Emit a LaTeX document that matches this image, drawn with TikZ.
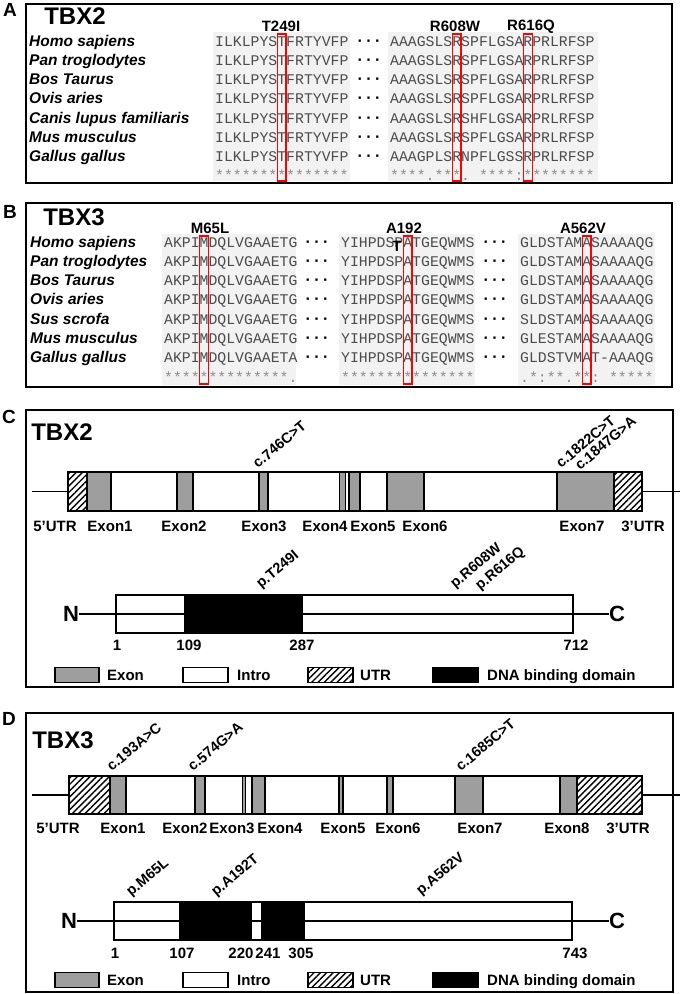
\documentclass[tikz,border=0pt]{standalone}
\usepackage{fontspec}
\setmainfont{Liberation Sans}
\setmonofont{Liberation Mono}
\usetikzlibrary{patterns.meta}

\newcommand{\cw}{8.88}% width of one residue

\begin{document}
\begin{tikzpicture}[
		x=1pt, y=-1pt,
		frame/.style={draw, line width=1.4pt},
		panel/.style={font=\fontsize{19}{19}\selectfont\bfseries, inner sep=0},
		gene/.style={font=\fontsize{24}{24}\selectfont\bfseries, inner sep=0},
		species/.style={font=\fontsize{15.5}{16}\selectfont\bfseries\itshape, anchor=base west, inner sep=0},
		seq/.style={font=\fontsize{14.8}{15}\selectfont\ttfamily, text=black!70, anchor=base west, inner sep=0},
		cons/.style={seq, text=black!45},
		dotgap/.style={font=\fontsize{16}{16}\selectfont\bfseries, anchor=base, inner sep=0},
		seqbg/.style={fill=black!5},
		site/.style={font=\fontsize{15}{15}\selectfont\bfseries, inner sep=0},
		redbox/.style={draw=red, line width=1.1pt},
		lbl/.style={font=\fontsize{15}{15}\selectfont\bfseries, inner sep=0},
		mutlbl/.style={font=\fontsize{14.5}{15}\selectfont\bfseries, rotate=40, anchor=south west, inner sep=0.5pt},
		exonbox/.style={fill=black!38, draw, line width=1.3pt},
		utrbox/.style={pattern={Lines[angle=45,distance=4.5pt,line width=1.4pt]}, draw, line width=1.3pt},
		intronbox/.style={fill=white, draw, line width=1.3pt},
		dbdbox/.style={fill=black, draw, line width=1.3pt},
		wire/.style={line width=1.3pt},
		term/.style={font=\fontsize{22}{22}\selectfont\bfseries, inner sep=0}
		]
		\useasboundingbox (0,0) rectangle (685,994);
		
		% A: TBX2 alignment
		\draw[frame] (26,4) rectangle (672,183);
		\node[panel] (lblA) at (10,10) {A};
		\node[gene] (geneA) at (75,16) {TBX2};
		\fill[seqbg] (213,32) rectangle (350,181);
		\fill[seqbg] (388,32) rectangle (598,181);
		\foreach \sp/\sa/\sb [count=\i] in {
			Homo sapiens/ILKLPYSTFRTYVFP/AAAGSLSRSPFLGSARPRLRFSP,
			Pan troglodytes/ILKLPYSTFRTYVFP/AAAGSLSRSPFLGSARPRLRFSP,
			Bos Taurus/ILKLPYSTFRTYVFP/AAAGSLSRSPFLGSARPRLRFSP,
			Ovis aries/ILKLPYSTFRTYVFP/AAAGSLSRSPFLGSARPRLRFSP,
			Canis lupus familiaris/ILKLPYSTFRTYVFP/AAAGSLSRSHFLGSARPRLRFSP,
			Mus musculus/ILKLPYSTFRTYVFP/AAAGSLSRSPFLGSARPRLRFSP,
			Gallus gallus/ILKLPYSTFRTYVFP/AAAGPLSRNPFLGSSRPRLRFSP}{
			\pgfmathsetmacro{\yb}{46.5+19.15*(\i-1)}
			\node[species] (spA\i) at (29,\yb) {\sp};
			\node[seq] (sqA\i) at (215,\yb) {\sa};
			\node[dotgap] (gpA\i) at (369,\yb) {·\hspace{3.5pt}·\hspace{3.5pt}·};
			\node[seq] (sqAb\i) at (390,\yb) {\sb};
		}
		\node[cons] (csA1) at (215,180.5) {***************};
		\node[cons] (csA2) at (390,180.5) {****.***. ****:********};
		\node[site] (mutT249I) at (281,26) {T249I};
		\node[site] (mutR608W) at (455,26) {R608W};
		\node[site] (mutR616Q) at (531,27) {R616Q};
		\draw[redbox] ({215+7*\cw},34) rectangle ({215+8*\cw},181);
		\draw[redbox] ({390+7*\cw},34) rectangle ({390+8*\cw},181);
		\draw[redbox] ({390+15*\cw},34) rectangle ({390+16*\cw},181);
		
		% B: TBX3 alignment
		\draw[frame] (26,203) rectangle (672,387);
		\node[panel] (lblB) at (10,212) {B};
		\node[gene] (geneB) at (74,217) {TBX3};
		\fill[seqbg] (162,234) rectangle (296,385);
		\fill[seqbg] (339,234) rectangle (475,385);
		\fill[seqbg] (518,234) rectangle (655,385);
		\foreach \sp/\sa/\sb/\sc [count=\i] in {
			Homo sapiens/AKPIMDQLVGAAETG/YIHPDSPATGEQWMS/GLDSTAMASAAAAQG,
			Pan troglodytes/AKPIMDQLVGAAETG/YIHPDSPATGEQWMS/GLDSTAMASAAAAQG,
			Bos Taurus/AKPIMDQLVGAAETG/YIHPDSPATGEQWMS/GLDSTAMASAAAAQG,
			Ovis aries/AKPIMDQLVGAAETG/YIHPDSPATGEQWMS/GLDSTAMASAAAAQG,
			Sus scrofa/AKPIMDQLVGAAETG/YIHPDSPATGEQWMS/SLDSTAMASAAAAQG,
			Mus musculus/AKPIMDQLVGAAETG/YIHPDSPATGEQWMS/GLESTAMASAAAAQG,
			Gallus gallus/AKPIMDQLVGAAETA/YIHPDSPATGEQWMS/GLDSTVMAT-AAAQG}{
			\pgfmathsetmacro{\yb}{247+19.3*(\i-1)}
			\node[species] (spB\i) at (30,\yb) {\sp};
			\node[seq] (sqB\i) at (164,\yb) {\sa};
			\node[dotgap] (gpB\i) at (317,\yb) {·\hspace{3.5pt}·\hspace{3.5pt}·};
			\node[seq] (sqBb\i) at (341,\yb) {\sb};
			\node[dotgap] (gpBb\i) at (495,\yb) {·\hspace{3.5pt}·\hspace{3.5pt}·};
			\node[seq] (sqBc\i) at (520,\yb) {\sc};
		}
		\node[cons] (csB1) at (164,382) {**************.};
		\node[cons] (csB2) at (341,382) {***************};
		\node[cons] (csB3) at (520,382) {.*:**.**: *****};
		\node[site] (mutM65L) at (210,228) {M65L};
		\node[site] (mutA192) at (404,228) {A192};
		\node[site] (mutA192T) at (397,246) {T};
		\node[site] (mutA562V) at (583,228) {A562V};
		\draw[redbox] ({164+4*\cw},236) rectangle ({164+5*\cw},384);
		\draw[redbox] ({341+7*\cw},236) rectangle ({341+8*\cw},384);
		\draw[redbox] ({520+7*\cw},236) rectangle ({520+8*\cw},384);
		
		% C: TBX2 gene and protein
		\draw[frame] (26,410) rectangle (673,687);
		\node[panel] (lblC) at (9,417) {C};
		\node[gene] (geneC) at (62,432) {TBX2};
		\coordinate (gCl) at (32,491.5);
		\coordinate (gCr) at (680,491.5);
		\draw[wire] (gCl) -- (gCr);
		\draw[intronbox] (68,472) rectangle (642,511);
		\foreach \a/\b in {87/111,177/193,259/268,339.5/345.5,349/360,387/424,557/614}
		\draw[exonbox] (\a,472) rectangle (\b,511);
		\draw[utrbox] (68,472) rectangle (87,511);
		\draw[utrbox] (614,472) rectangle (642,511);
		\foreach \t/\x [count=\i] in {5’UTR/55,Exon1/110,Exon2/184,Exon3/264,Exon4/325,Exon5/373,Exon6/425,Exon7/582,3’UTR/643}
		\node[lbl, anchor=base] (exC\i) at (\x,531) {\t};
		\node[mutlbl] (cC1) at (258,470) {c.746C>T};
		\node[mutlbl] (cC2) at (561,470) {c.1822C>T};
		\node[mutlbl] (cC3) at (580,472) {c.1847G>A};
		
		\node[term] (nC) at (71,614) {N};
		\node[term] (tC) at (617,614) {C};
		\draw[wire] (nC.east) -- (tC.west);
		\draw[wire] (116,595) rectangle (573,633);
		\draw[dbdbox] (185,595) rectangle (302,633);
		\foreach \t/\x in {1/117,109/189,287/302,712/576}
		\node[lbl, anchor=base] (posC\t) at (\x,650.5) {\t};
		\node[mutlbl] (pC1) at (263,592) {p.T249I};
		\node[mutlbl] (pC2) at (457,592) {p.R608W};
		\node[mutlbl] (pC3) at (482,594) {p.R616Q};
		
		% D: TBX3 gene and protein
		\draw[frame] (26,713) rectangle (673,992);
		\node[panel] (lblD) at (9,719) {D};
		\node[gene] (geneD) at (63,740) {TBX3};
		\coordinate (gDl) at (32,795);
		\coordinate (gDr) at (680,795);
		\draw[wire] (gDl) -- (gDr);
		\draw[intronbox] (69,776) rectangle (642,814);
		\foreach \a/\b in {110/126,195/205,242.5/245.5,252/265,339/343,387/393,455/483,560/577}
		\draw[exonbox] (\a,776) rectangle (\b,814);
		\draw[utrbox] (69,776) rectangle (110,814);
		\draw[utrbox] (577,776) rectangle (642,814);
		\foreach \t/\x [count=\i] in {5’UTR/58,Exon1/123,Exon2/185,Exon3/232,Exon4/280,Exon5/343,Exon6/398,Exon7/480,Exon8/567,3’UTR/628}
		\node[lbl, anchor=base] (exD\i) at (\x,833.5) {\t};
		\node[mutlbl] (cD1) at (112,773) {c.193A>C};
		\node[mutlbl] (cD2) at (193,773) {c.574G>A};
		\node[mutlbl] (cD3) at (461,773) {c.1685C>T};
		
		\node[term] (nD) at (69,921) {N};
		\node[term] (tD) at (617,921) {C};
		\draw[wire] (nD.east) -- (tD.west);
		\draw[wire] (114,902) rectangle (572,940);
		\draw[dbdbox] (180,902) rectangle (251,940);
		\draw[dbdbox] (262,902) rectangle (304,940);
		\foreach \t/\x in {1/115,107/182,220/241,241/268,305/301,743/575}
		\node[lbl, anchor=base] (posD\t) at (\x,958.5) {\t};
		\node[mutlbl] (pD1) at (133,900) {p.M65L};
		\node[mutlbl] (pD2) at (218,900) {p.A192T};
		\node[mutlbl] (pD3) at (423,899) {p.A562V};
		
		% legends
		\foreach \ly/\p in {675/C,980/D}{
			\draw[exonbox] (55,\ly-7.5) rectangle (99,\ly+7.5);
			\node[lbl, anchor=base west] (lgExon\p) at (107,\ly+5.5) {Exon};
			\draw[intronbox] (183,\ly-7.5) rectangle (228,\ly+7.5);
			\node[lbl, anchor=base west] (lgIntro\p) at (237,\ly+5.5) {Intro};
			\draw[utrbox] (308,\ly-7.5) rectangle (353,\ly+7.5);
			\node[lbl, anchor=base west] (lgUTR\p) at (360,\ly+5.5) {UTR};
			\draw[dbdbox] (433,\ly-7.5) rectangle (478,\ly+7.5);
			\node[lbl, anchor=base west] (lgDBD\p) at (487,\ly+5.5) {DNA binding domain};
		}
	\end{tikzpicture}
\end{document}
